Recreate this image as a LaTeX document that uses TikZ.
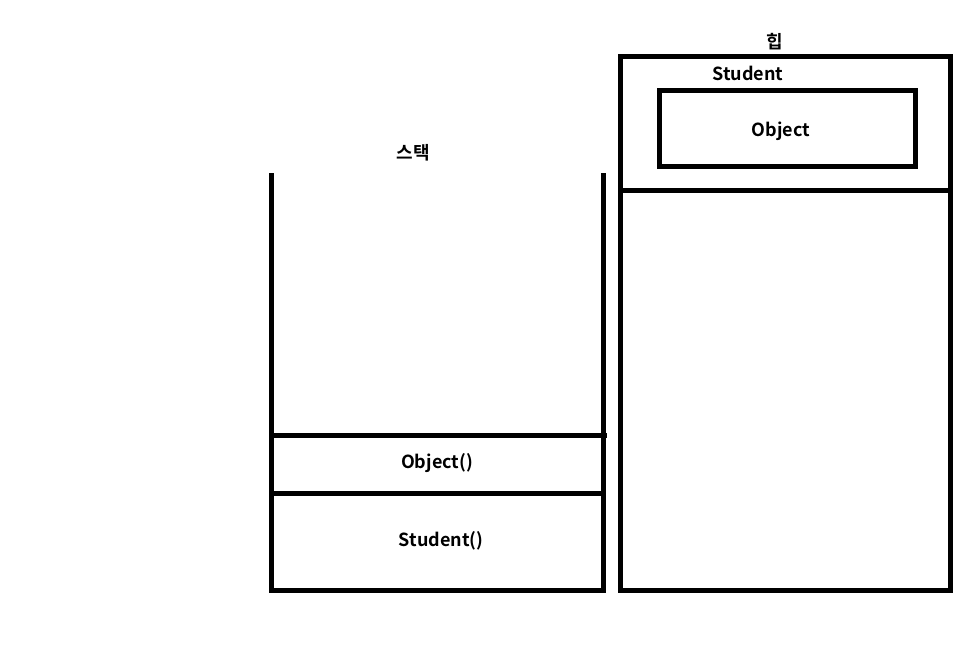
\documentclass[tikz,border=0pt]{standalone}
\usepackage{fontspec}
\setmainfont{Noto Sans CJK KR}[BoldFont={Noto Sans CJK KR Bold}]
\begin{document}
\begin{tikzpicture}[x=1pt,y=-1pt,
  wall/.style={line width=5pt,black},
  lbl/.style={font=\fontsize{18}{21}\selectfont\bfseries,inner sep=0pt,anchor=center}]
\useasboundingbox (0,0) rectangle (976,659);
% stack
\draw[wall,miter limit=10] (271,173) -- (271,590) -- (603,590) -- (603,173);
\draw[wall] (271,435) -- (606.5,435);
\draw[wall] (271,493) -- (603,493);
% heap
\draw[wall] (620.5,56.5) rectangle (950,590);
\draw[wall] (620.5,190) -- (950,190);
\draw[wall] (659,90.5) rectangle (915,166.5);
% labels
\node[lbl] (heap) at (775,42) {힙};
\node[lbl] (stud) at (748,73) {Student};
\node[lbl] (obj) at (781,131) {Object};
\node[lbl] (stack) at (413,153) {스택};
\node[lbl] (objc) at (437,463) {Object()};
\node[lbl] (studc) at (441,541) {Student()};
\end{tikzpicture}
\end{document}
